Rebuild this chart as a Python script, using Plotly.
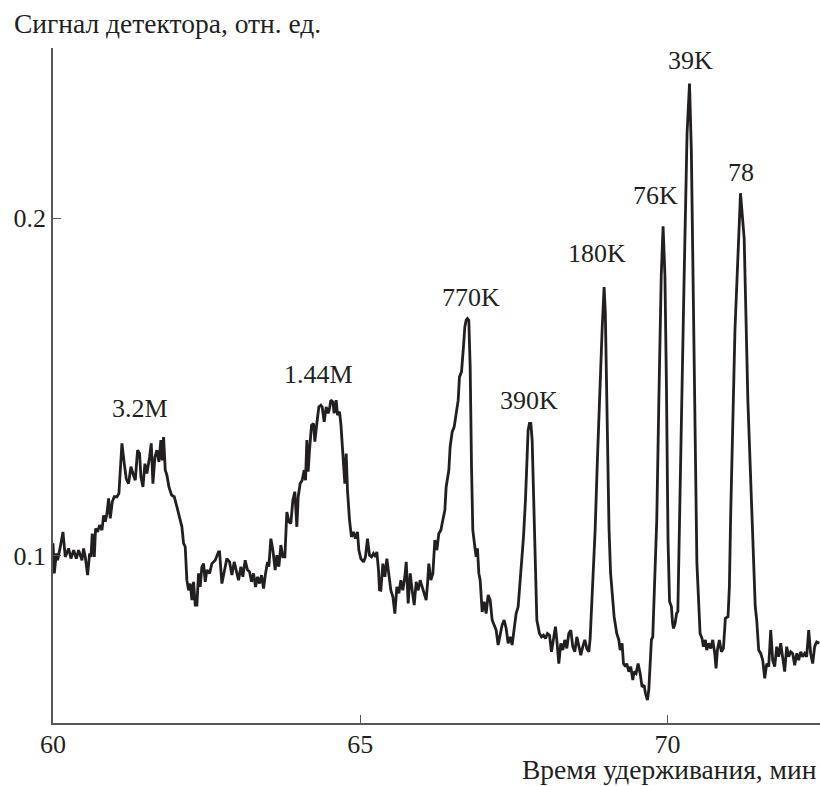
import plotly.graph_objects as go

# ---- data (retention time, min / detector signal, rel. units) ----
t_a = [60.00, 60.021, 60.054, 60.075, 60.119, 60.162, 60.200, 60.254, 60.292, 60.336, 60.379, 60.417,
       60.471, 60.498, 60.525, 60.563, 60.596, 60.618, 60.639, 60.672, 60.693, 60.726, 60.759, 60.797,
       60.824, 60.851, 60.878, 60.905, 60.932, 60.965, 60.997, 61.041, 61.073, 61.095, 61.122, 61.160,
       61.192, 61.230, 61.268, 61.301, 61.339, 61.377, 61.409, 61.431, 61.464, 61.496, 61.529, 61.572,
       61.599, 61.626, 61.659, 61.691, 61.724, 61.756, 61.778, 61.800, 61.827, 61.854, 61.887, 61.930,
       61.973, 62.017, 62.060, 62.098, 62.125, 62.152, 62.179, 62.207, 62.234, 62.261, 62.288, 62.315,
       62.342, 62.369, 62.396, 62.423, 62.451, 62.478, 62.505, 62.548, 62.586, 62.640, 62.694]
s_a = [0.1037, 0.0948, 0.1007, 0.0987, 0.1027, 0.1071, 0.0997, 0.1022, 0.0992, 0.1017, 0.0992, 0.1017,
       0.0987, 0.1022, 0.0997, 0.0943, 0.1007, 0.0997, 0.1066, 0.0997, 0.1081, 0.1071, 0.1091, 0.1076,
       0.1120, 0.1101, 0.1125, 0.1170, 0.1111, 0.1160, 0.1175, 0.1175, 0.1185, 0.1244, 0.1333, 0.1273,
       0.1229, 0.1214, 0.1264, 0.1244, 0.1224, 0.1313, 0.1303, 0.1234, 0.1204, 0.1273, 0.1244, 0.1293,
       0.1333, 0.1214, 0.1293, 0.1313, 0.1278, 0.1343, 0.1283, 0.1352, 0.1254, 0.1239, 0.1204, 0.1180,
       0.1175, 0.1145, 0.1116, 0.1086, 0.1037, 0.1027, 0.0928, 0.0898, 0.0918, 0.0869, 0.0923, 0.0854,
       0.0854, 0.0948, 0.0908, 0.0967, 0.0977, 0.0923, 0.0958, 0.0948, 0.0977, 0.0987, 0.1012]

t_b = [62.711, 62.749, 62.787, 62.830, 62.874, 62.912, 62.949, 62.982, 63.020, 63.058, 63.090, 63.128,
       63.166, 63.199, 63.231, 63.264, 63.297, 63.329, 63.362, 63.394, 63.427, 63.459, 63.492, 63.513,
       63.546, 63.579, 63.616, 63.644, 63.676, 63.709, 63.741, 63.774, 63.806, 63.839, 63.871, 63.904,
       63.936, 63.969, 63.991, 64.023, 64.056, 64.088, 64.110, 64.132, 64.153, 64.175, 64.208, 64.240,
       64.262, 64.294, 64.327, 64.359, 64.381, 64.414, 64.446, 64.479, 64.500, 64.522, 64.555, 64.576,
       64.609, 64.631, 64.663, 64.685, 64.707, 64.728, 64.750, 64.772, 64.793, 64.826, 64.858, 64.891,
       64.923, 64.956, 64.978, 65.010, 65.054, 65.086, 65.119, 65.151, 65.184, 65.216, 65.249, 65.271,
       65.298, 65.314]
s_b = [0.1012, 0.0918, 0.0953, 0.0992, 0.0982, 0.0943, 0.0982, 0.0958, 0.0928, 0.0968, 0.0938, 0.0987,
       0.0958, 0.0953, 0.0923, 0.0948, 0.0908, 0.0938, 0.0918, 0.0943, 0.0903, 0.0948, 0.0982, 0.0968,
       0.1051, 0.1017, 0.0958, 0.1002, 0.0968, 0.1032, 0.0997, 0.0997, 0.1130, 0.1101, 0.1096, 0.1165,
       0.1190, 0.1086, 0.1175, 0.1214, 0.1224, 0.1254, 0.1224, 0.1343, 0.1249, 0.1313, 0.1387, 0.1392,
       0.1338, 0.1392, 0.1441, 0.1446, 0.1441, 0.1397, 0.1441, 0.1422, 0.1436, 0.1461, 0.1456, 0.1422,
       0.1461, 0.1417, 0.1427, 0.1392, 0.1338, 0.1283, 0.1214, 0.1303, 0.1195, 0.1106, 0.1056, 0.1071,
       0.1051, 0.1071, 0.1017, 0.0992, 0.0982, 0.0997, 0.1051, 0.1002, 0.0997, 0.1007, 0.0997, 0.1012,
       0.0958, 0.0899]

t_c = [65.336, 65.369, 65.402, 65.434, 65.467, 65.499, 65.532, 65.564, 65.597, 65.629, 65.662, 65.694,
       65.727, 65.749, 65.781, 65.814, 65.846, 65.879, 65.911, 65.944, 65.976, 66.009, 66.041, 66.074,
       66.096, 66.117, 66.150, 66.183, 66.215, 66.248, 66.280, 66.313, 66.345, 66.378, 66.399, 66.421,
       66.443, 66.464, 66.497, 66.530, 66.562, 66.595, 66.616, 66.649, 66.681, 66.703, 66.725, 66.746,
       66.768, 66.790, 66.812, 66.833, 66.866, 66.887, 66.909, 66.931, 66.953, 66.985, 67.018, 67.050,
       67.083, 67.115, 67.148, 67.180, 67.213, 67.245, 67.278, 67.310, 67.343, 67.376, 67.408, 67.441,
       67.473, 67.506, 67.538, 67.571, 67.592, 67.625, 67.658, 67.690, 67.712, 67.733, 67.755, 67.777,
       67.799, 67.820, 67.842, 67.863]
s_c = [0.0898, 0.0977, 0.0938, 0.0992, 0.0948, 0.0898, 0.0879, 0.0829, 0.0908, 0.0889, 0.0928, 0.0898,
       0.0938, 0.0982, 0.0859, 0.0948, 0.0898, 0.0854, 0.0923, 0.0898, 0.0928, 0.0908, 0.0889, 0.0869,
       0.0918, 0.0977, 0.0928, 0.0948, 0.1047, 0.1017, 0.1066, 0.1076, 0.1106, 0.1135, 0.1204, 0.1234,
       0.1254, 0.1323, 0.1367, 0.1382, 0.1422, 0.1461, 0.1530, 0.1545, 0.1619, 0.1678, 0.1698, 0.1703,
       0.1698, 0.1560, 0.1264, 0.1076, 0.1027, 0.0997, 0.1022, 0.0948, 0.0928, 0.0834, 0.0864, 0.0829,
       0.0884, 0.0869, 0.0810, 0.0795, 0.0780, 0.0736, 0.0770, 0.0795, 0.0810, 0.0785, 0.0741, 0.0760,
       0.0736, 0.0785, 0.0829, 0.0849, 0.0898, 0.0977, 0.1056, 0.1165, 0.1283, 0.1372, 0.1392, 0.1392,
       0.1343, 0.1185, 0.0968, 0.0849]

t_d = [67.875, 67.918, 67.951, 67.983, 68.016, 68.048, 68.081, 68.113, 68.146, 68.178, 68.200, 68.233,
       68.265, 68.298, 68.330, 68.363, 68.395, 68.428, 68.460, 68.493, 68.526, 68.558, 68.591, 68.623,
       68.656, 68.688, 68.721, 68.743, 68.770, 68.797]
s_d = [0.0810, 0.0770, 0.0760, 0.0765, 0.0755, 0.0770, 0.0765, 0.0716, 0.0760, 0.0790, 0.0751, 0.0681,
       0.0741, 0.0721, 0.0751, 0.0726, 0.0770, 0.0780, 0.0731, 0.0716, 0.0760, 0.0735, 0.0706, 0.0731,
       0.0751, 0.0726, 0.0716, 0.0755, 0.0859, 0.0977]

t_e = [68.824, 68.86, 68.90, 68.94, 68.97, 68.99, 69.02, 69.05, 69.075, 69.095, 69.133, 69.176,
       69.209, 69.231, 69.263, 69.285, 69.317, 69.339, 69.372, 69.404, 69.437, 69.458, 69.491, 69.523,
       69.556, 69.588, 69.621, 69.643, 69.675, 69.697, 69.719, 69.740, 69.762, 69.795, 69.827, 69.86,
       69.90, 69.93, 69.96, 69.985, 70.01, 70.035, 70.065, 70.085, 70.10, 70.125, 70.15, 70.17,
       70.21, 70.27, 70.32, 70.36, 70.39, 70.43, 70.455, 70.48, 70.505, 70.532, 70.565, 70.586,
       70.619, 70.640, 70.673, 70.705, 70.738, 70.771, 70.792, 70.814, 70.846, 70.879, 70.912, 70.944,
       70.987, 71.009, 71.03, 71.10, 71.19, 71.25, 71.31, 71.38, 71.43, 71.454, 71.486, 71.519,
       71.552, 71.584, 71.617, 71.649, 71.682, 71.714, 71.747, 71.779, 71.812, 71.844, 71.877, 71.909,
       71.942, 71.974, 72.007, 72.039, 72.072, 72.105, 72.137, 72.170, 72.202, 72.235, 72.267, 72.300,
       72.332, 72.365, 72.397, 72.430, 72.473]
s_e = [0.1076, 0.128, 0.150, 0.168, 0.1796, 0.172, 0.140, 0.108, 0.095, 0.0908, 0.0820, 0.0770,
       0.0751, 0.0721, 0.0741, 0.0681, 0.0672, 0.0681, 0.0657, 0.0672, 0.0632, 0.0657, 0.0652, 0.0681,
       0.0652, 0.0612, 0.0617, 0.0593, 0.0573, 0.0602, 0.0681, 0.0751, 0.0760, 0.0908, 0.1106, 0.145,
       0.183, 0.1976, 0.183, 0.150, 0.105, 0.0865, 0.0850, 0.0800, 0.0785, 0.0800, 0.0830, 0.0835,
       0.118, 0.180, 0.225, 0.2399, 0.220, 0.160, 0.120, 0.098, 0.088, 0.0770, 0.0755, 0.0731,
       0.0751, 0.0721, 0.0741, 0.0726, 0.0751, 0.0711, 0.0667, 0.0721, 0.0751, 0.0716, 0.0726, 0.0815,
       0.0820, 0.0908, 0.112, 0.167, 0.2074, 0.194, 0.146, 0.109, 0.085, 0.0810, 0.0721, 0.0711,
       0.0691, 0.0637, 0.0681, 0.0672, 0.0780, 0.0691, 0.0672, 0.0731, 0.0701, 0.0741, 0.0691, 0.0657,
       0.0731, 0.0701, 0.0716, 0.0711, 0.0676, 0.0711, 0.0691, 0.0716, 0.0701, 0.0711, 0.0701, 0.0780,
       0.0711, 0.0681, 0.0731, 0.0745, 0.0741]

# peak labels (molecular weights) and their positions
peak_labels = ["3.2M", "1.44M", "770K", "390K", "180K", "76K", "39K", "78"]
label_t = [61.42, 64.32, 66.81, 67.75, 68.86, 69.81, 70.37, 71.19]
label_s = [0.1437, 0.1538, 0.1766, 0.1461, 0.1896, 0.2066, 0.2466, 0.2134]

x_ticks = [60, 65, 70]
y_ticks = [0.1, 0.2]
y_tick_text = ["0.1", "0.2"]

x_title = "Время удерживания, мин"
y_title = "Сигнал детектора, отн. ед."

# ---- assemble ----
segments = [(t_a, s_a), (t_b, s_b), (t_c, s_c), (t_d, s_d), (t_e, s_e)]
time, signal = [], []
for tt, ss in segments:
    assert len(tt) == len(ss), (len(tt), len(ss))
    time += tt
    signal += ss

INK = "#231f20"
AXC = "#58585a"
FONT = "Liberation Serif"
FS = 26
FS_TITLE = 27.5

fig = go.Figure()
fig.add_trace(go.Scatter(x=time, y=signal, mode="lines",
                         line=dict(color=INK, width=2.8), hoverinfo="skip", showlegend=False))

for txt, xt, ys in zip(peak_labels, label_t, label_s):
    fig.add_annotation(x=xt, y=ys, xref="x", yref="y", text=txt, showarrow=False,
                       xanchor="center", yanchor="middle",
                       font=dict(family=FONT, size=FS, color=INK))

fig.add_annotation(x=-0.0535, y=1.036, xref="paper", yref="paper", text=y_title, showarrow=False,
                   xanchor="left", yanchor="middle", font=dict(family=FONT, size=FS_TITLE, color=INK))
fig.add_annotation(x=0.9974, y=-0.069, xref="paper", yref="paper", text=x_title, showarrow=False,
                   xanchor="right", yanchor="middle", borderpad=0,
                   font=dict(family=FONT, size=FS_TITLE, color=INK))

fig.update_layout(
    width=820, height=786,
    margin=dict(l=53, r=0, t=48, b=63, pad=0),
    paper_bgcolor="white", plot_bgcolor="white",
    showlegend=False,
)
fig.update_xaxes(range=[60, 72.484], tickvals=x_ticks, ticktext=[str(v) for v in x_ticks],
                 showline=True, linecolor=AXC, linewidth=1.6, showgrid=False, zeroline=False,
                 ticks="inside", ticklen=8, tickwidth=1.3, tickcolor=AXC, ticklabelstandoff=-3,
                 tickfont=dict(family=FONT, size=FS, color=INK))
fig.update_yaxes(range=[0.0505, 0.2504], tickvals=y_ticks, ticktext=y_tick_text,
                 showline=True, linecolor=AXC, linewidth=1.6, showgrid=False, zeroline=False,
                 ticks="inside", ticklen=8, tickwidth=1.3, tickcolor=AXC,
                 tickfont=dict(family=FONT, size=FS, color=INK))

fig.write_html("out.html")
